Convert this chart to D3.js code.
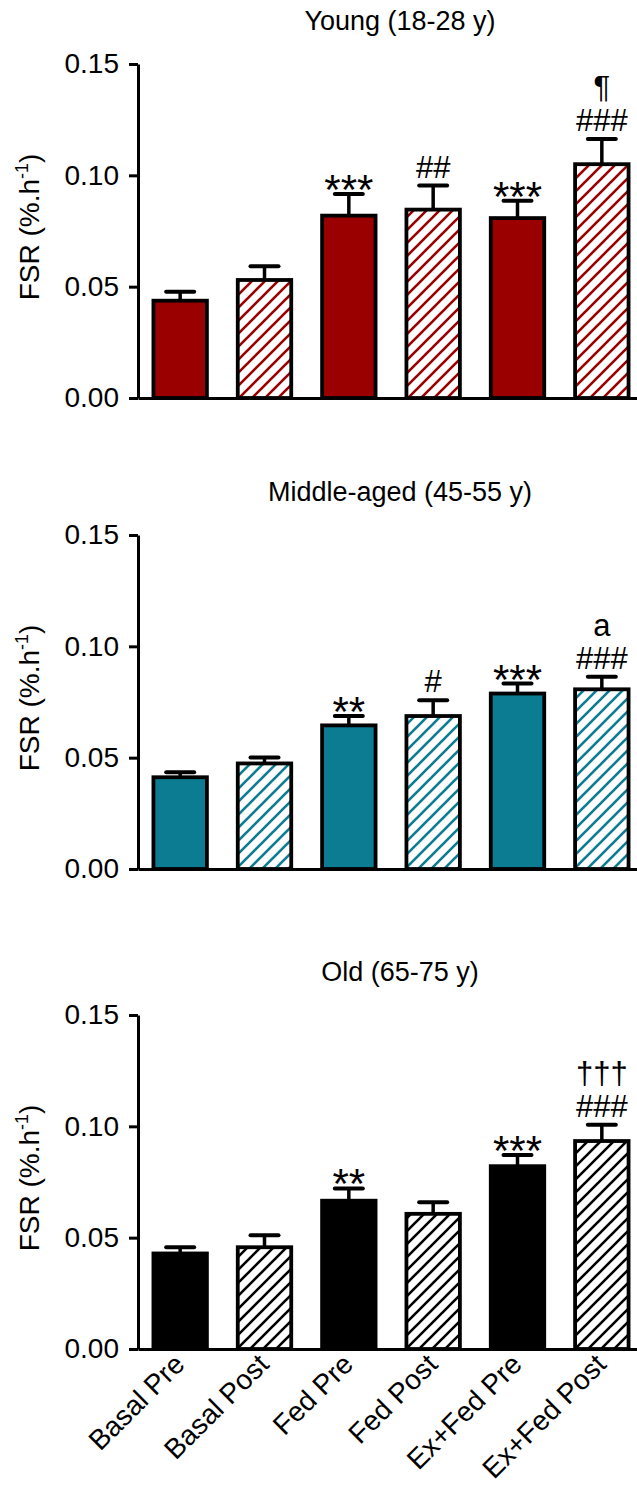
<!DOCTYPE html>
<html>
<head>
<meta charset="utf-8">
<script src="https://cdn.jsdelivr.net/npm/d3@7"></script>
<style>
  body { margin: 0; background: #fff; }
  text { font-family: Arial, "Liberation Sans", sans-serif; fill: #000; }
</style>
</head>
<body>
<script>
const conditions = ['Basal Pre', 'Basal Post', 'Fed Pre', 'Fed Post', 'Ex+Fed Pre', 'Ex+Fed Post'];
const groupNames = ['Young (18-28 y)', 'Middle-aged (45-55 y)', 'Old (65-75 y)'];
const groupColors = ['#9a0000', '#0b7c92', '#000000'];
const yTicks = [0, 0.05, 0.1, 0.15];

const youngFSR = [0.0437, 0.053, 0.0819, 0.0846, 0.0808, 0.105];
const youngSEM = [0.004, 0.0062, 0.0097, 0.0108, 0.0078, 0.0113];
const middleFSR = [0.0412, 0.0474, 0.0645, 0.0687, 0.0788, 0.0807];
const middleSEM = [0.0023, 0.0027, 0.0042, 0.0071, 0.0045, 0.0056];
const oldFSR = [0.0429, 0.0457, 0.0666, 0.0607, 0.0821, 0.0934];
const oldSEM = [0.0028, 0.0054, 0.0055, 0.0052, 0.005, 0.0073];

// significance marks, first line just above the error bar, second line above that
const youngMarks = ['', '', '***', '##', '***', '###'];
const youngMarks2 = ['', '', '', '', '', '¶'];
const middleMarks = ['', '', '**', '#', '***', '###'];
const middleMarks2 = ['', '', '', '', '', 'a'];
const oldMarks = ['', '', '**', '', '***', '###'];
const oldMarks2 = ['', '', '', '', '', '†††'];

const panels = [
  { fsr: youngFSR, sem: youngSEM, marks: youngMarks, marks2: youngMarks2 },
  { fsr: middleFSR, sem: middleSEM, marks: middleMarks, marks2: middleMarks2 },
  { fsr: oldFSR, sem: oldSEM, marks: oldMarks, marks2: oldMarks2 }
];

const width = 637;
const height = 1488;
const axisX = 138;
const panelTops = [64, 535, 1015];
const panelHeight = 334;

const svg = d3.select('body')
  .append('svg')
  .attr('width', width)
  .attr('height', height);

const x = d3.scaleBand()
  .domain(conditions)
  .range([axisX, 644])
  .paddingInner(0.366)
  .paddingOuter(0.183);

// hatch patterns, one per colour
const defs = svg.append('defs');
groupColors.forEach((c, i) => {
  const p = defs.append('pattern')
    .attr('id', 'hatch' + i)
    .attr('patternUnits', 'userSpaceOnUse')
    .attr('width', 13)
    .attr('height', 13);
  p.append('rect').attr('width', 13).attr('height', 13).attr('fill', '#fff');
  p.append('path')
    .attr('d', 'M-2,2 L2,-2 M0,13 L13,0 M11,15 L15,11')
    .attr('stroke', c)
    .attr('stroke-width', 2.6);
});

panels.forEach((panel, pi) => {
  const top = panelTops[pi];
  const bottom = top + panelHeight;

  const y = d3.scaleLinear()
    .domain([0, 0.15])
    .range([bottom, top]);

  const g = svg.append('g');

  // TITLE
  g.append('text')
    .attr('x', 400)
    .attr('y', top - 34)
    .attr('text-anchor', 'middle')
    .attr('font-size', 27)
    .text(groupNames[pi]);

  // Y LABEL
  const yl = g.append('text')
    .attr('transform', `translate(39, ${(top + bottom) / 2 - 4}) rotate(-90)`)
    .attr('text-anchor', 'middle')
    .attr('font-size', 28);
  yl.append('tspan').text('FSR (%.h');
  yl.append('tspan').attr('font-size', 18).attr('dy', -11).text('-1');
  yl.append('tspan').attr('dy', 11).text(')');

  // BARS
  g.selectAll('rect.bar')
    .data(panel.fsr)
    .enter()
    .append('rect')
    .attr('class', 'bar')
    .attr('x', (d, i) => x(conditions[i]))
    .attr('y', d => y(d))
    .attr('width', x.bandwidth())
    .attr('height', d => bottom - y(d))
    .attr('fill', (d, i) => i % 2 === 0 ? groupColors[pi] : `url(#hatch${pi})`)
    .attr('stroke', '#000')
    .attr('stroke-width', 3.8);

  // ERROR BARS (upper only)
  const cx = i => x(conditions[i]) + x.bandwidth() / 2;
  g.selectAll('line.err')
    .data(panel.fsr)
    .enter()
    .append('line')
    .attr('x1', (d, i) => cx(i))
    .attr('x2', (d, i) => cx(i))
    .attr('y1', d => y(d))
    .attr('y2', (d, i) => y(d + panel.sem[i]))
    .attr('stroke', '#000')
    .attr('stroke-width', 3.5);
  g.selectAll('line.cap')
    .data(panel.fsr)
    .enter()
    .append('line')
    .attr('x1', (d, i) => cx(i) - 14)
    .attr('x2', (d, i) => cx(i) + 14)
    .attr('y1', (d, i) => y(d + panel.sem[i]))
    .attr('y2', (d, i) => y(d + panel.sem[i]))
    .attr('stroke', '#000')
    .attr('stroke-width', 4)
    .attr('stroke-linecap', 'round');

  // SIGNIFICANCE MARKS
  const isStar = m => m.startsWith('*');
  const markY = (d, i) => {
    const m = panel.marks[i];
    return y(d + panel.sem[i]) + (isStar(m) ? 10 : -8);
  };
  g.selectAll('text.mark')
    .data(panel.fsr)
    .enter()
    .append('text')
    .attr('x', (d, i) => cx(i))
    .attr('y', markY)
    .attr('text-anchor', 'middle')
    .attr('font-size', (d, i) => isStar(panel.marks[i]) ? 42 : 31)
    .text((d, i) => panel.marks[i]);
  g.selectAll('text.mark2')
    .data(panel.fsr)
    .enter()
    .append('text')
    .attr('x', (d, i) => cx(i))
    .attr('y', (d, i) => markY(d, i) - 33)
    .attr('text-anchor', 'middle')
    .attr('font-size', 31)
    .text((d, i) => panel.marks2[i]);

  // Y AXIS
  g.append('g')
    .attr('transform', `translate(${axisX},0)`)
    .call(d3.axisLeft(y)
      .tickValues(yTicks)
      .tickFormat(d3.format('.2f'))
      .tickSize(9)
      .tickSizeOuter(0)
      .tickPadding(10))
    .call(a => a.select('.domain').attr('stroke-width', 3))
    .call(a => a.selectAll('.tick line').attr('stroke-width', 3))
    .call(a => a.selectAll('.tick text')
      .attr('font-size', 28)
      .attr('font-family', 'Arial, "Liberation Sans", sans-serif'));

  // X AXIS
  const xAxis = g.append('g')
    .attr('transform', `translate(0,${bottom})`)
    .call(d3.axisBottom(x).tickSize(0).tickSizeOuter(0).tickPadding(0))
    .call(a => a.select('.domain').attr('stroke-width', 3));

  if (pi === 2) {
    xAxis.selectAll('.tick text')
      .attr('font-size', 28)
      .attr('font-family', 'Arial, "Liberation Sans", sans-serif')
      .attr('text-anchor', 'end')
      .attr('dy', 0)
      .attr('y', 0)
      .attr('transform', 'translate(6,17) rotate(-45)');
  } else {
    xAxis.selectAll('.tick text').remove();
  }
});
</script>
</body>
</html>
